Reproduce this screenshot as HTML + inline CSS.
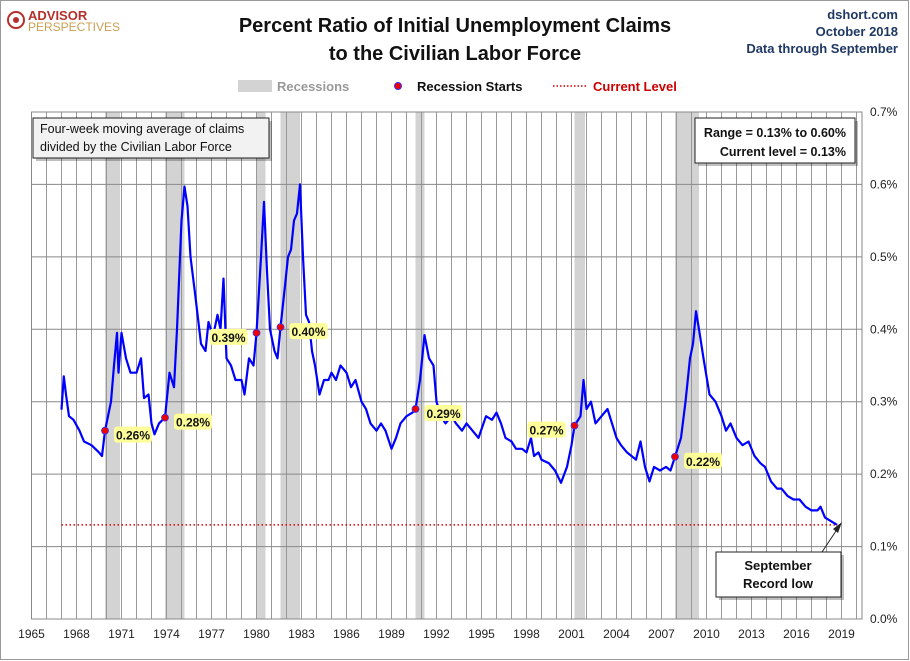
<!DOCTYPE html>
<html><head><meta charset="utf-8">
<style>
body{margin:0;background:#fff;font-family:"Liberation Sans",sans-serif;}
#wrap{position:relative;width:910px;height:661px;overflow:hidden;}
svg text{font-family:"Liberation Sans",sans-serif;}
</style></head><body>
<div id="wrap">
<svg id="chart" width="910" height="661" xmlns="http://www.w3.org/2000/svg">
<rect x="0.5" y="0.5" width="908" height="659" fill="#fff" stroke="#999"/>
<g>
<circle cx="16" cy="20" r="8" fill="none" stroke="#b5302a" stroke-width="2"/>
<circle cx="16" cy="20" r="3" fill="#b5302a"/>
<text x="28" y="20" font-size="13" font-weight="bold" fill="#b5302a">ADVISOR</text>
<text x="28" y="31" font-size="12" fill="#c8a050">PERSPECTIVES</text>
</g>
<text x="455" y="32" text-anchor="middle" font-size="20" font-weight="bold" fill="#111">Percent Ratio of Initial Unemployment Claims</text>
<text x="455" y="60" text-anchor="middle" font-size="20" font-weight="bold" fill="#111">to the Civilian Labor Force</text>
<text x="898" y="19" text-anchor="end" font-size="13" font-weight="bold" fill="#1f3864">dshort.com</text>
<text x="898" y="36" text-anchor="end" font-size="13" font-weight="bold" fill="#1f3864">October 2018</text>
<text x="898" y="53" text-anchor="end" font-size="13" font-weight="bold" fill="#1f3864">Data through September</text>
<g>
<rect x="238" y="80" width="34" height="12" fill="#d3d3d3"/>
<text x="277" y="91" font-size="13" font-weight="bold" fill="#999">Recessions</text>
<circle cx="398" cy="86" r="3.5" fill="#e00" stroke="#33f"/>
<text x="417" y="91" font-size="13" font-weight="bold" fill="#111">Recession Starts</text>
<line x1="553" y1="86" x2="588" y2="86" stroke="#c00" stroke-dasharray="1.5,2" stroke-width="1.5"/>
<text x="593" y="91" font-size="13" font-weight="bold" fill="#c00">Current Level</text>
</g>
<g id="plot"></g>
<g>
<rect x="36" y="121" width="236" height="40" fill="#000" opacity="0.25"/>
<rect x="33" y="118" width="236" height="40" fill="#f2f2f2" stroke="#222"/>
<text x="40" y="133" font-size="12.5" fill="#111">Four-week moving average of claims</text>
<text x="40" y="151" font-size="12.5" fill="#111">divided by the Civilian Labor Force</text>
</g>
<g>
<rect x="698" y="121" width="160" height="45" fill="#000" opacity="0.25"/>
<rect x="695" y="118" width="160" height="45" fill="#fff" stroke="#222"/>
<text x="846" y="137" text-anchor="end" font-size="12.5" font-weight="bold" fill="#111">Range = 0.13% to 0.60%</text>
<text x="846" y="156" text-anchor="end" font-size="12.5" font-weight="bold" fill="#111">Current level = 0.13%</text>
</g>
<g>
<line x1="822" y1="552" x2="840" y2="525" stroke="#222" stroke-width="1"/>
<polygon points="842,522 833,529 838,533" fill="#222"/>
<rect x="719" y="555" width="125" height="45" fill="#000" opacity="0.25"/>
<rect x="716" y="552" width="125" height="45" fill="#fff" stroke="#222"/>
<text x="778" y="570" text-anchor="middle" font-size="13" font-weight="bold" fill="#111">September</text>
<text x="778" y="588" text-anchor="middle" font-size="13" font-weight="bold" fill="#111">Record low</text>
</g>
</svg>
</div>
<script>
const years=[1967.0,1967.15,1967.3,1967.5,1967.8,1968.2,1968.5,1969.0,1969.5,1969.7,1969.9,1970.3,1970.5,1970.7,1970.8,1971.0,1971.3,1971.6,1972.0,1972.3,1972.5,1972.8,1973.0,1973.2,1973.5,1973.9,1974.2,1974.5,1974.7,1975.0,1975.2,1975.4,1975.6,1975.9,1976.3,1976.6,1976.8,1977.1,1977.4,1977.6,1977.8,1978.0,1978.3,1978.6,1979.0,1979.2,1979.5,1979.8,1980.0,1980.3,1980.5,1980.7,1980.9,1981.2,1981.4,1981.6,1981.9,1982.1,1982.3,1982.5,1982.7,1982.9,1983.1,1983.3,1983.5,1983.7,1983.9,1984.2,1984.5,1984.8,1985.0,1985.3,1985.6,1986.0,1986.3,1986.6,1987.0,1987.3,1987.6,1988.0,1988.3,1988.6,1989.0,1989.3,1989.6,1990.0,1990.4,1990.6,1990.9,1991.2,1991.5,1991.8,1992.0,1992.3,1992.6,1993.0,1993.3,1993.7,1994.0,1994.4,1994.8,1995.3,1995.7,1996.0,1996.3,1996.6,1997.0,1997.3,1997.7,1998.0,1998.3,1998.5,1998.8,1999.0,1999.5,1999.9,2000.3,2000.7,2001.0,2001.2,2001.6,2001.8,2002.0,2002.3,2002.6,2003.0,2003.4,2003.7,2004.0,2004.3,2004.7,2005.0,2005.3,2005.6,2005.9,2006.2,2006.5,2006.9,2007.3,2007.6,2007.9,2008.3,2008.6,2008.9,2009.1,2009.3,2009.5,2009.8,2010.2,2010.6,2011.0,2011.3,2011.6,2012.0,2012.4,2012.8,2013.2,2013.6,2013.9,2014.3,2014.7,2015.0,2015.4,2015.8,2016.2,2016.6,2017.0,2017.4,2017.6,2017.9,2018.3,2018.7];
const values=[0.289,0.335,0.31,0.28,0.275,0.26,0.245,0.24,0.23,0.225,0.26,0.30,0.35,0.395,0.34,0.395,0.36,0.34,0.34,0.36,0.305,0.31,0.27,0.255,0.27,0.278,0.34,0.32,0.40,0.55,0.597,0.57,0.50,0.45,0.38,0.37,0.41,0.39,0.42,0.40,0.47,0.36,0.35,0.33,0.33,0.31,0.36,0.35,0.395,0.50,0.576,0.48,0.40,0.37,0.36,0.403,0.46,0.50,0.51,0.55,0.56,0.60,0.50,0.42,0.41,0.37,0.35,0.31,0.33,0.33,0.34,0.33,0.35,0.34,0.32,0.33,0.30,0.29,0.27,0.26,0.27,0.26,0.235,0.25,0.27,0.28,0.285,0.29,0.33,0.392,0.36,0.35,0.30,0.28,0.27,0.28,0.27,0.26,0.27,0.26,0.25,0.28,0.275,0.285,0.27,0.25,0.245,0.235,0.235,0.23,0.25,0.225,0.23,0.22,0.215,0.205,0.188,0.21,0.24,0.267,0.28,0.33,0.29,0.30,0.27,0.28,0.29,0.27,0.25,0.24,0.23,0.225,0.22,0.245,0.21,0.19,0.21,0.205,0.21,0.205,0.224,0.25,0.30,0.36,0.38,0.425,0.40,0.36,0.31,0.30,0.28,0.26,0.27,0.25,0.24,0.245,0.225,0.215,0.21,0.19,0.18,0.18,0.17,0.165,0.165,0.155,0.15,0.15,0.155,0.14,0.135,0.13];
const recessionStarts=[1969.9,1973.9,1980.0,1981.6,1990.6,2001.2,2007.9];
const recessionEnds=[1970.9,1975.2,1980.6,1982.9,1991.2,2001.9,2009.5];
const startValues=[0.26,0.278,0.395,0.403,0.29,0.267,0.224];
const startLabels=["0.26%","0.28%","0.39%","0.40%","0.29%","0.27%","0.22%"];
const labelSide=[1,1,-1,1,1,-1,1];
const yTicks=[0,0.1,0.2,0.3,0.4,0.5,0.6,0.7];
const yTickLabels=["0.0%","0.1%","0.2%","0.3%","0.4%","0.5%","0.6%","0.7%"];
const xTickYears=[1965,1968,1971,1974,1977,1980,1983,1986,1989,1992,1995,1998,2001,2004,2007,2010,2013,2016,2019];
const currentLevel=0.13;

const NS="http://www.w3.org/2000/svg";
const L=31.5,R=862,T=112,B=619;
const xs=y=>L+(y-1965)*15;
const ys=v=>B-(v/0.7)*(B-T);
const plot=document.getElementById('plot');
function mk(tag,attrs,parent){const e=document.createElementNS(NS,tag);for(const k in attrs)e.setAttribute(k,attrs[k]);(parent||plot).appendChild(e);return e;}

for(let i=0;i<recessionStarts.length;i++){
  const r=mk('rect',{x:xs(recessionStarts[i]),y:T,width:xs(recessionEnds[i])-xs(recessionStarts[i]),height:B-T,fill:'#d3d3d3'});
  
  
}
for(let yr=1966;yr<=2020;yr++){
  const g=mk('line',{x1:xs(yr),x2:xs(yr),y1:T,y2:B,stroke:'#999','stroke-width':1});
  
  
}
yTicks.forEach((t,i)=>{
  const g=mk('line',{x1:L,x2:R,y1:ys(t),y2:ys(t),stroke:'#888','stroke-width':1});
  
  
  const tx=mk('text',{x:870,y:ys(t)+4,'font-size':12,fill:'#222'});
  tx.textContent=yTickLabels[i];
  
  
});
const ax=mk('rect',{x:L,y:T,width:R-L,height:B-T,fill:'none',stroke:'#888'});


xTickYears.forEach(yr=>{
  const tx=mk('text',{x:xs(yr),y:638,'font-size':12,fill:'#222','text-anchor':'middle'});
  tx.textContent=yr;
  
  
});
const cl=mk('line',{x1:xs(1967),x2:xs(2018.75),y1:ys(currentLevel),y2:ys(currentLevel),stroke:'#d00','stroke-width':1.5,'stroke-dasharray':'1.5,2.5'});


const d=years.map((y,i)=>(i?'L':'M')+xs(y).toFixed(1)+','+ys(values[i]).toFixed(1)).join(' ');
const ln=mk('path',{d:d,fill:'none',stroke:'#0000ff','stroke-width':2.2,'stroke-linejoin':'round'});


recessionStarts.forEach((yr,i)=>{
  const cx=xs(yr),cy=ys(startValues[i]);
  const c=mk('circle',{cx:cx,cy:cy,r:3.5,fill:'#e00',stroke:'#33f','stroke-width':0.8});
  
  
  const w=38,bx=labelSide[i]>0?cx+9:cx-9-w;
  const bg=mk('rect',{x:bx,y:cy-4,width:w,height:16,rx:3,fill:'#ffff99'});
  
  
  const t=mk('text',{x:bx+w/2,y:cy+9,'font-size':12,'font-weight':'bold',fill:'#111','text-anchor':'middle'});
  t.textContent=startLabels[i];
  
  
});
</script>
</body></html>
